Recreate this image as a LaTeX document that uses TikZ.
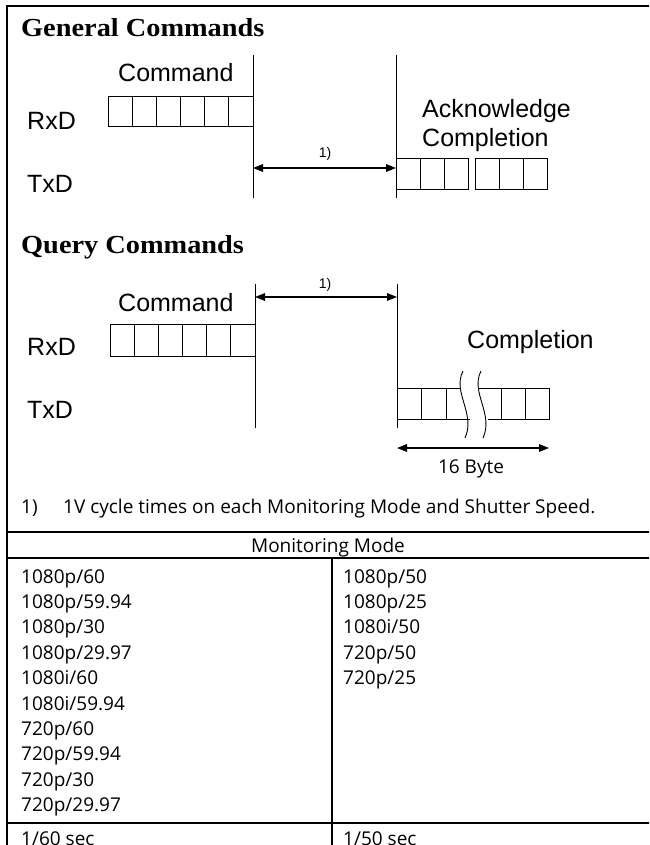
\documentclass[tikz,border=0pt]{standalone}
\usepackage{fontspec}
\setmainfont{Liberation Sans}
\newfontfamily\headfont{Liberation Serif}
\newfontfamily\tabfont{Open Sans}
\usetikzlibrary{arrows.meta}
\begin{document}
\begin{tikzpicture}[x=1pt,y=-1pt,
  frameline/.style={line width=1.3pt},
  marker/.style={line width=0.9pt},
  cellbox/.style={draw, line width=0.9pt, minimum width=#1, inner sep=0pt, outer sep=0pt, anchor=north west},
  gcell/.style={cellbox=24.17pt, minimum height=30pt},
  qcell/.style={cellbox=24.17pt, minimum height=32pt},
  acell/.style={cellbox=24.2pt, minimum height=31pt},
  heading/.style={font=\headfont\bfseries\fontsize{26}{30}\selectfont, inner sep=0pt, anchor=base west},
  lbl/.style={font=\fontsize{25}{30}\selectfont, inner sep=0pt, anchor=base west},
  note/.style={font=\fontsize{14}{16}\selectfont, inner sep=0pt},
  tabtxt/.style={font=\tabfont\fontsize{19}{23}\selectfont, inner sep=0pt, anchor=base west},
  dblarrow/.style={line width=1.5pt, {Triangle[length=10pt,width=7.5pt]}-{Triangle[length=10pt,width=7.5pt]}}
]
\useasboundingbox (0,0) rectangle (649,845);
\begin{scope}
\clip (0,0) rectangle (649,845);
% frame and table
\coordinate (fTL) at (7,6);
\coordinate (fTR) at (652,6);
\coordinate (fBL) at (7,850);
\draw[frameline] (fTR) -- (fTL) -- (fBL);
\coordinate (h1l) at (7,532); \coordinate (h1r) at (652,532);
\coordinate (h2l) at (7,558); \coordinate (h2r) at (652,558);
\coordinate (h3l) at (7,823); \coordinate (h3r) at (652,823);
\coordinate (dvt) at (332,558); \coordinate (dvb) at (332,850);
\draw[frameline] (h1l) -- (h1r);
\draw[frameline] (h2l) -- (h2r);
\draw[frameline] (h3l) -- (h3r);
\draw[frameline] (dvt) -- (dvb);

% ---------- General Commands ----------
\node[heading] (genhead) at (21,37) {\scalebox{1.09}[1]{General Commands}};
\node[lbl] (gcmd) at (118,82) {Command};
\node[lbl] (grxd) at (27,130) {RxD};
\node[lbl] (gtxd) at (27,193) {TxD};
\node[lbl] (gack) at (422,118) {Acknowledge};
\node[lbl] (gcomp) at (422,147) {Completion};
\foreach \i in {0,...,5} \node[gcell] (gc\i) at ({108+24.17*\i},96) {};
\foreach \i in {0,1,2} \node[acell] (ga\i) at ({396+24*\i},158) {};
\foreach \i in {0,1,2} \node[acell] (gb\i) at ({475+24.33*\i},158) {};
\coordinate (gv1t) at (253,55); \coordinate (gv1b) at (253,198);
\coordinate (gv2t) at (396,55); \coordinate (gv2b) at (396,198);
\draw[marker] (gv1t) -- (gv1b);
\draw[marker] (gv2t) -- (gv2b);
\coordinate (garl) at (253,168); \coordinate (garr) at (396,168);
\draw[dblarrow] (garl) -- (garr);
\node[note] (gnote) at (325,154) {1)};

% ---------- Query Commands ----------
\node[heading] (qryhead) at (21,253) {\scalebox{1.09}[1]{Query Commands}};
\node[lbl] (qcmd) at (118,311) {Command};
\node[lbl] (qrxd) at (27,355) {RxD};
\node[lbl] (qtxd) at (27,418) {TxD};
\node[lbl] (qcomp) at (467,348) {Completion};
\foreach \i in {0,...,5} \node[qcell] (qc\i) at ({110+24.17*\i},324) {};
\node[acell, minimum width=24.5pt] (qa0) at (397,388) {};
\node[acell, minimum width=24.5pt] (qa1) at (421.5,388) {};
\node[acell, minimum width=24pt] (qb0) at (501,388) {};
\node[acell, minimum width=24pt] (qb1) at (525,388) {};
% broken cells around the break
\coordinate (bk1t) at (446,388); \coordinate (bk1b) at (446,419);
\coordinate (bw1t) at (460.5,388); \coordinate (bw1b) at (469.5,419);
\coordinate (bw2t) at (478.5,388); \coordinate (bw2b) at (487.5,419);
\coordinate (bk2t) at (501,388); \coordinate (bk2b) at (501,419);
\draw[line width=0.9pt] (bk1t) -- (bw1t) (bk1b) -- (bw1b);
\draw[line width=0.9pt] (bw2t) -- (bk2t) (bw2b) -- (bk2b);
\coordinate (w1s) at (463,371); \coordinate (w1e) at (465,438);
\coordinate (w2s) at (481,371); \coordinate (w2e) at (483,438);
\draw[line width=0.9pt] (w1s) .. controls (452,392) and (476,414) .. (w1e);
\draw[line width=0.9pt] (w2s) .. controls (470,392) and (494,414) .. (w2e);
\coordinate (qv1t) at (255,284); \coordinate (qv1b) at (255,428);
\coordinate (qv2t) at (397,284); \coordinate (qv2b) at (397,428);
\draw[marker] (qv1t) -- (qv1b);
\draw[marker] (qv2t) -- (qv2b);
\coordinate (qarl) at (255,297); \coordinate (qarr) at (397,297);
\draw[dblarrow] (qarl) -- (qarr);
\node[note] (qnote) at (325,285) {1)};
\coordinate (byl) at (397,448); \coordinate (byr) at (549,448);
\draw[dblarrow] (byl) -- (byr);
\node[tabtxt, anchor=base] (bytes) at (471,473) {16 Byte};

% ---------- footnote and table ----------
\node[tabtxt] (fnnum) at (21,513) {1)};
\node[tabtxt] (fntext) at (63,513) {1V cycle times on each Monitoring Mode and Shutter Speed.};
\node[tabtxt, anchor=base] (mmhead) at (328,552) {Monitoring Mode};
\foreach \t [count=\k from 0] in {1080p/60,1080p/59.94,1080p/30,1080p/29.97,1080i/60,1080i/59.94,720p/60,720p/59.94,720p/30,720p/29.97}
  \node[tabtxt] (l\k) at (21,{583+25.4*\k}) {\t};
\foreach \t [count=\k from 0] in {1080p/50,1080p/25,1080i/50,720p/50,720p/25}
  \node[tabtxt] (r\k) at (343,{583+25.4*\k}) {\t};
\node[tabtxt] (ls) at (21,845) {1/60 sec};
\node[tabtxt] (rs) at (343,845) {1/50 sec};
\end{scope}
\end{tikzpicture}
\end{document}
